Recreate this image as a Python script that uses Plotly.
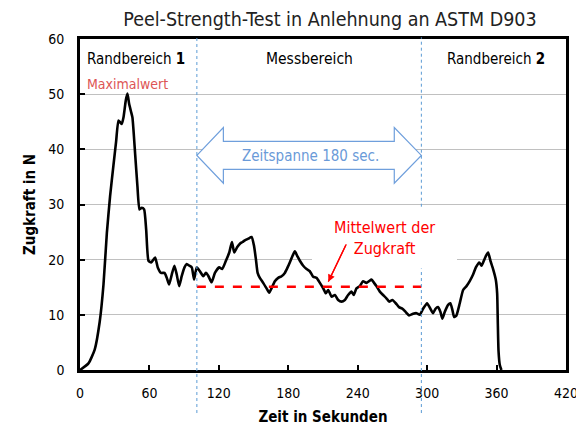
import plotly.graph_objects as go

# ---- data ----
zeit = [0, 7.3, 12.7, 17, 20.3, 23.2, 26, 28.9, 31.2, 33.2, 34.7, 36.1, 37.6, 39.6, 41, 42.5, 43.9, 45.3,
        47.7, 49.6, 51.4, 53.4, 55.4, 57.2, 59.2, 61.5, 64.9, 67.2, 70.1, 73, 75, 77, 79.3, 81.6, 83.6,
        85.7, 87.9, 90.3, 92.2, 94.6, 96.6, 98.6, 100.9, 103.6, 106.5, 108.8, 110.8, 113.7, 116.6, 120.3,
        122.9, 126.1, 129, 131.3, 133.3, 135.9, 138.2, 140.5, 142.5, 145.4, 148.3, 150.3, 152, 153.5,
        155.4, 158.3, 161.2, 163.5, 165.5, 168.4, 171.3, 174.2, 177, 179.4, 181.3, 183.7, 185.7, 187.7,
        190, 192.9, 195.8, 198.6, 201.5, 204.4, 207.3, 210.2, 212.5, 214.5, 217.4, 220.3, 223.1, 226,
        228.9, 231.7, 234.6, 236.6, 238.9, 241.8, 244.6, 247.5, 249.8, 251.9, 254.1, 256.2, 259.1, 261.9,
        264.8, 267.1, 270, 272.9, 275.7, 278.7, 281.5, 284.4, 287.8, 290.8, 293.6, 296.5, 299.9, 302.8,
        305.1, 307.2, 309.4, 311.5, 313.2, 315.2, 318.1, 320.1, 321.9, 323.3, 325.3, 328.2, 331.1, 334,
        336.8, 339.7, 342.1, 345, 347, 349, 350.8, 352.7, 354.7, 357, 359.3, 360.5, 361.1, 361.7, 362.8,
        364.2]
zugkraft = [0, 1.2, 3.7, 8.7, 15.5, 24.8, 31.5, 37.1, 41.4, 45.2, 44.9, 44.6, 45.8, 48.9, 50.1, 48.2, 47.0,
            45.8, 39, 33.4, 29.1, 29.4, 29.1, 25.4, 19.8, 19.5, 20.4, 18.6, 17.6, 17.6, 16.7, 15.5, 17.3,
            18.9, 17.3, 15.2, 17.0, 18.6, 19.2, 18.9, 18.6, 16.4, 18.6, 17.9, 17.0, 17.6, 17.1, 15.9, 17.6,
            18.6, 18.3, 19.8, 21.3, 23.2, 21.3, 22.3, 22.9, 23.2, 23.5, 23.8, 24.1, 22.6, 20.1, 17.6, 16.7,
            15.8, 14.8, 14.0, 14.8, 16.1, 16.7, 17.0, 17.6, 18.6, 19.5, 20.7, 21.5, 20.7, 19.8, 18.9, 18.3,
            17.9, 16.9, 16.7, 15.8, 14.8, 13.9, 14.5, 13.3, 13.6, 12.7, 12.4, 12.7, 13.6, 14.2, 13.6, 14.8,
            15.2, 16.1, 15.8, 16.1, 16.4, 15.8, 15.2, 14.2, 13.6, 13.0, 12.4, 12.7, 12.1, 11.4, 11.1, 10.5,
            9.9, 10.2, 10.3, 10.0, 11.1, 12.1, 11.1, 10.3, 11.1, 11.4, 10.5, 9.3, 10.5, 11.8, 12.1, 10.8,
            9.6, 9.9, 12.1, 14.5, 15.2, 16.1, 17.3, 18.6, 19.5, 18.9, 19.8, 20.7, 21.3, 19.8, 18.3, 16.4,
            13.9, 8.3, 3.4, 0.9, 0]

mess_start = 101
mess_ende = 295
mittelwert = 15.1
x_ticks = [0, 60, 120, 180, 240, 300, 360, 420]
y_ticks = [0, 10, 20, 30, 40, 50, 60]

FONT = "DejaVu Sans Condensed, Liberation Sans Narrow, Arial Narrow, Liberation Sans, sans-serif"

fig = go.Figure()
fig.add_trace(go.Scatter(x=zeit, y=zugkraft, mode="lines",
                         line=dict(color="black", width=2.6, shape="spline", smoothing=0.5),
                         hoverinfo="skip"))
fig.add_trace(go.Scatter(x=[mess_start, mess_ende], y=[mittelwert, mittelwert], mode="lines",
                         line=dict(color="#ff0000", width=2.6, dash="dash"), hoverinfo="skip"))

shapes = []
# white label box behind "Mittelwert der Zugkraft" (hides gridline)
box_x0, box_x1, box_y0, box_y1 = 200.5, 325.8, 18.4, 29.6
shapes.append(dict(type="rect", xref="x", yref="y", x0=box_x0, x1=box_x1, y0=box_y0, y1=box_y1,
                   fillcolor="white", line=dict(width=0), layer="between"))
# double arrow (outline)
ay_c, ay_sh, ay_hd = 38.9, 2.55, 5.05
hx1, hx2 = 123.9, 271.6
path = (f"M {mess_start},{ay_c} L {hx1},{ay_c+ay_hd} L {hx1},{ay_c+ay_sh} L {hx2},{ay_c+ay_sh} "
        f"L {hx2},{ay_c+ay_hd} L {mess_ende},{ay_c} L {hx2},{ay_c-ay_hd} L {hx2},{ay_c-ay_sh} "
        f"L {hx1},{ay_c-ay_sh} L {hx1},{ay_c-ay_hd} Z")
shapes.append(dict(type="path", path=path, xref="x", yref="y", fillcolor="white",
                   line=dict(color="#6f9fdc", width=1.2), layer="above"))
# boundary lines of the measuring range
dot = dict(color="#5b9bd5", width=1, dash="dot")
shapes.append(dict(type="line", xref="x", yref="paper", x0=mess_start, x1=mess_start, y0=-0.13, y1=1.005,
                   line=dot, layer="above"))
shapes.append(dict(type="line", xref="x", yref="paper", x0=mess_ende, x1=mess_ende,
                   y0=box_y1 / 60, y1=1.005, line=dot, layer="above"))
shapes.append(dict(type="line", xref="x", yref="paper", x0=mess_ende, x1=mess_ende,
                   y0=-0.13, y1=box_y0 / 60, line=dot, layer="above"))
# shaft of the pointer arrow to the mean line
pfeil_von = (230.1, 22.8)
pfeil_zu = (214.6, 16.0)
shapes.append(dict(type="line", xref="x", yref="y", x0=pfeil_von[0], y0=pfeil_von[1],
                   x1=pfeil_zu[0], y1=pfeil_zu[1], line=dict(color="#ff0000", width=1.3), layer="above"))

annotations = [
    dict(x=48.8, y=56.3, text="Randbereich <b>1</b>", showarrow=False, font=dict(size=15, color="black")),
    dict(x=198.2, y=56.3, text="Messbereich", showarrow=False, font=dict(size=15.5, color="black")),
    dict(x=359.7, y=56.3, text="Randbereich <b>2</b>", showarrow=False, font=dict(size=15, color="black")),
    dict(x=41, y=51.9, text="Maximalwert", showarrow=False, font=dict(size=14, color="#dd5555")),
    dict(x=199, y=38.8, text="Zeitspanne 180 sec.", showarrow=False, font=dict(size=15, color="#6a9ad8")),
    dict(x=263.4, y=23.9, text="Mittelwert der<br>Zugkraft", showarrow=False,
         font=dict(size=16, color="#ff0000")),
    dict(x=pfeil_zu[0], y=pfeil_zu[1], ax=pfeil_von[0], ay=pfeil_von[1], axref="x", ayref="y",
         text=" ", font=dict(size=1), showarrow=True, arrowhead=2, arrowsize=1.1, arrowwidth=1.3,
         arrowcolor="#ff0000", standoff=0, startstandoff=0, borderpad=0),
]

# the page adds an 8px body margin; the figure is sized so that it fills the 584x429 window
fig.update_layout(
    width=576, height=421,
    margin=dict(l=72, r=18, t=31, b=59),
    paper_bgcolor="white", plot_bgcolor="white",
    font=dict(family=FONT, color="black", size=14),
    showlegend=False,
    title=dict(text="Peel-Strength-Test in Anlehnung an ASTM D903", x=0.559, xanchor="center",
               y=0.974, yanchor="middle", font=dict(size=19.5, color="#222222")),
    xaxis=dict(range=[0, 420], tickvals=x_ticks, ticktext=[str(v) for v in x_ticks],
               showgrid=False, zeroline=False, showline=True, linewidth=2.6, linecolor="black",
               mirror=True, ticks="inside", ticklen=5, tickwidth=1.5, tickcolor="black",
               ticklabelstandoff=8, tickfont=dict(size=14), automargin=False,
               title=dict(text="<b>Zeit in Sekunden</b>", font=dict(size=15), standoff=12)),
    yaxis=dict(range=[0, 60], tickvals=y_ticks, ticktext=[str(v) for v in y_ticks],
               showgrid=True, gridcolor="#c0c0c0", gridwidth=1, zeroline=False, showline=True,
               linewidth=2.6, linecolor="black", mirror=True, ticks="inside", ticklen=5,
               tickwidth=1.5, tickcolor="black", ticklabelstandoff=10, tickfont=dict(size=14),
               automargin=False,
               title=dict(text="<b>Zugkraft in N</b>", font=dict(size=15), standoff=10)),
    shapes=shapes,
    annotations=annotations,
)

fig.write_html("out.html")
